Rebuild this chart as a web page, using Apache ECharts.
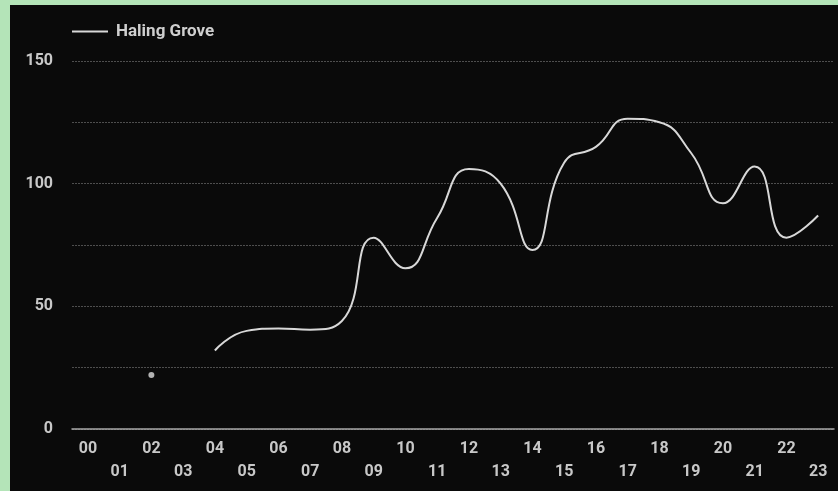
<!DOCTYPE html>
<html><head><meta charset="utf-8">
<script src="https://cdn.jsdelivr.net/npm/echarts@6/dist/echarts.min.js"></script>
<style>
html,body{margin:0;padding:0;width:838px;height:491px;background:#b4e4b8;overflow:hidden}
#c{position:absolute;left:10px;top:5px;width:828px;height:486px;background:#0a0a0a}
</style></head><body>
<div id="c"></div>
<script>
const hours = ['00','01','02','03','04','05','06','07','08','09','10','11','12','13','14','15','16','17','18','19','20','21','22','23'];
const seriesName = 'Haling Grove';
const values = [null,null,22,null,32,40,41,40.5,44,78,65.5,86,106,100,73,108.5,115,126.5,125,112.5,92,107,78,87];
const yTicks = [0,50,100,150];

// points with no neighbours are drawn as dots (the line cannot be drawn there)
const isolated = values.map((v,i)=> (v!=null && values[i-1]==null && values[i+1]==null) ? v : null);

const chart = echarts.init(document.getElementById('c'));
chart.setOption({
  backgroundColor:'#0a0a0a',
  animation:false,
  textStyle:{fontFamily:'Roboto'},
  legend:{
    left:62, top:18, padding:0, itemWidth:36, itemHeight:16, itemGap:10,
    icon:'path://M0,7L36,7L36,9L0,9Z',
    data:[{name:seriesName, itemStyle:{color:'#d8d8d8'}}],
    textStyle:{color:'#cfcfcf', fontSize:17, fontWeight:'bold', fontFamily:'Roboto', padding:[0,0,0,3]}
  },
  grid:{left:62, right:4, top:56, bottom:62, containLabel:false},
  xAxis:{
    type:'category', data:hours, boundaryGap:true,
    axisLine:{show:true, lineStyle:{color:'#a8a8a8', width:1.5}},
    axisTick:{show:false},
    axisLabel:{interval:0, margin:9, color:'#c8c8c8', fontSize:16, fontWeight:'bold', lineHeight:22.5,
      formatter:(v,i)=> (i%2===1 ? '\n'+v : v)}
  },
  yAxis:{
    type:'value', min:0, max:150, interval:25,
    axisLine:{show:false}, axisTick:{show:false},
    axisLabel:{margin:19, color:'#c8c8c8', fontSize:16, fontWeight:'bold',
      formatter:v=> yTicks.includes(v) ? String(v) : ''},
    splitLine:{lineStyle:{color:'#4e4e4e', type:[2,1], width:1}}
  },
  series:[{
    name:seriesName, type:'line', data:values, smooth:true, connectNulls:false,
    showSymbol:false,
    lineStyle:{color:'#d8d8d8', width:2},
    itemStyle:{color:'#d8d8d8'}
  },{
    name:'isolated', type:'scatter', data:isolated, symbol:'circle', symbolSize:6,
    itemStyle:{color:'#dcdcdc'}, silent:true
  }]
});
</script></body></html>
